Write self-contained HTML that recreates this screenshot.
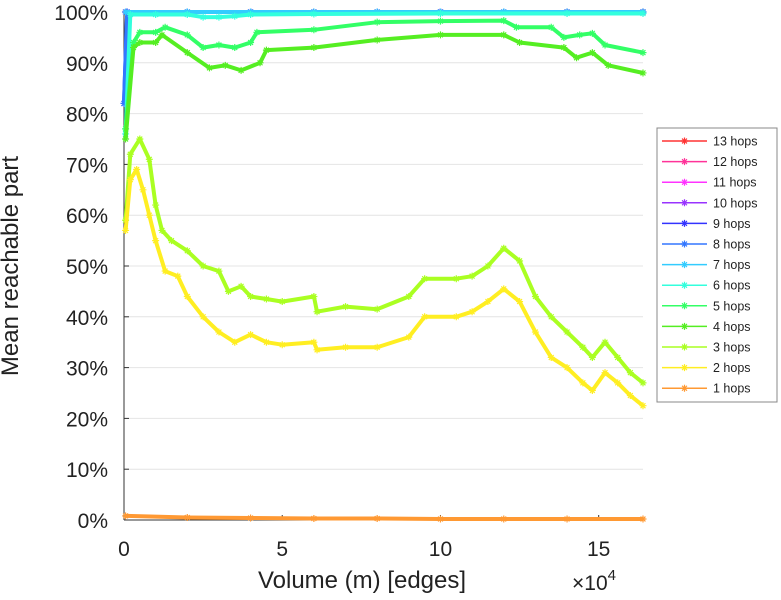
<!DOCTYPE html>
<html><head><meta charset="utf-8"><style>
html,body{margin:0;padding:0;background:#fff;}
svg{display:block;font-family:"Liberation Sans",sans-serif;}
</style></head><body>
<svg id="chart" width="781" height="600" viewBox="0 0 781 600">
<g id="grid"></g>
<g id="axes"></g>
<g id="series"></g>
<text x="18" y="266" font-size="24" fill="#222" text-anchor="middle" transform="rotate(-90 18 266)">Mean reachable part</text>
<text x="362" y="588" font-size="24" fill="#222" text-anchor="middle">Volume (m) [edges]</text>
<text x="572" y="590" font-size="21" fill="#222">×10<tspan dy="-10" font-size="15">4</tspan></text>
<g id="legend"></g>
</svg>
<script>
const yTicks=[0,10,20,30,40,50,60,70,80,90,100];
const xTicks=[0,5,10,15];
const seriesNames=["13 hops","12 hops","11 hops","10 hops","9 hops","8 hops","7 hops","6 hops","5 hops","4 hops","3 hops","2 hops","1 hops"];
const seriesColors=["#ff3333","#ff3399","#ff33ff","#9933ff","#3333ff","#3377ff","#33ccff","#33ffdd","#33ff66","#55ee22","#aaff22","#ffee22","#ff9933"];
const xTop=[0.05,2,4,6,8,10,12,14,16.4];
const yTop=[100,100,100,100,100,100,100,100,100];
const x8=[0,0.1,2,4,6,8,10,12,14,16.4];
const y8=[82,100,100,100,100,100,100,100,100,100];
const x6=[0.05,0.2,1,2,2.5,3,3.5,4,6,10,14,16.4];
const y6=[76,99.5,99.5,99.5,99,99,99.2,99.5,99.6,99.7,99.7,99.7];
const x5=[0.05,0.3,0.5,1,1.3,2,2.5,3,3.5,4,4.2,6,8,10,12,12.4,13.5,13.9,14.4,14.8,15.2,16.4];
const y5=[77,94,96,96,97,95.5,93,93.5,93,94,96,96.5,98,98.2,98.3,97,97,95,95.5,95.8,93.5,92];
const x4=[0.05,0.3,0.5,1,1.2,2,2.7,3.2,3.7,4.3,4.5,6,8,10,12,12.5,13.9,14.3,14.8,15.3,16.4];
const y4=[75,93,94,94,95.5,92,89,89.5,88.5,90,92.5,93,94.5,95.5,95.5,94,93,91,92,89.5,88];
const x3=[0.05,0.2,0.5,0.8,1,1.2,1.5,2,2.5,3,3.3,3.7,4,4.5,5,6,6.1,7,8,9,9.5,10.5,11,11.5,12,12.5,13,13.5,14,14.5,14.8,15.2,15.6,16,16.4];
const y3=[59,72,75,71,62,57,55,53,50,49,45,46,44,43.5,43,44,41,42,41.5,44,47.5,47.5,48,50,53.5,51,44,40,37,34,32,35,32,29,27];
const x2=[0.05,0.2,0.4,0.6,0.8,1,1.3,1.7,2,2.5,3,3.5,4,4.5,5,6,6.1,7,8,9,9.5,10.5,11,11.5,12,12.5,13,13.5,14,14.5,14.8,15.2,15.6,16,16.4];
const y2=[57,67,69,65,60,55,49,48,44,40,37,35,36.5,35,34.5,35,33.5,34,34,36,40,40,41,43,45.5,43,37,32,30,27,25.5,29,27,24.5,22.5];
const x1=[0.05,2,4,6,8,10,12,14,16.4];
const y1=[0.8,0.5,0.4,0.3,0.3,0.2,0.2,0.2,0.2];
const seriesX=[xTop,xTop,xTop,xTop,x8,x8,xTop,x6,x5,x4,x3,x2,x1];
const seriesY=[yTop,yTop,yTop,yTop,y8,y8,yTop,y6,y5,y4,y3,y2,y1];

const NS="http://www.w3.org/2000/svg";
const X0=124,X1=643,XMAX=16.4,Y0=520,Y1=12;
function sx(v){return X0+v*(X1-X0)/XMAX;}
function sy(v){return Y0-v*(Y0-Y1)/100;}
function mk(tag,attrs,parent){const e=document.createElementNS(NS,tag);for(const k in attrs)e.setAttribute(k,attrs[k]);parent.appendChild(e);return e;}
const grid=document.getElementById('grid'),axes=document.getElementById('axes'),ser=document.getElementById('series'),leg=document.getElementById('legend');
yTicks.forEach(t=>{
  if(t>0&&t<100){const l=mk('line',{x1:X0,x2:X1,y1:sy(t),y2:sy(t),stroke:'#e4e4e4','stroke-width':1},grid);
  
  }
  const tk=mk('line',{x1:X0,x2:X0+5,y1:sy(t),y2:sy(t),stroke:'#333'},axes);
  
  
  const tx=mk('text',{x:108,y:sy(t)+8,'font-size':21,'text-anchor':'end',fill:'#222'},axes);
  tx.textContent=t+'%';
  
  
});
xTicks.forEach(t=>{
  const tk=mk('line',{x1:sx(t),x2:sx(t),y1:Y0,y2:Y0-5,stroke:'#333'},axes);
  
  
  const tx=mk('text',{x:sx(t),y:556,'font-size':21,'text-anchor':'middle',fill:'#222'},axes);
  tx.textContent=t;
  
  
});
const ya=mk('line',{x1:X0,x2:X0,y1:Y1,y2:Y0,stroke:'#333'},axes);


const xa=mk('line',{x1:X0,x2:X1,y1:Y0,y2:Y0,stroke:'#333'},axes);



function star(g,x,y,c,r){
  mk('path',{d:`M${x-r},${y}H${x+r}M${x},${y-r}V${y+r}M${x-r*0.7},${y-r*0.7}L${x+r*0.7},${y+r*0.7}M${x-r*0.7},${y+r*0.7}L${x+r*0.7},${y-r*0.7}`,stroke:c,'stroke-width':1.2,fill:'none'},g);
}
for(let i=0;i<seriesNames.length;i++){
  const g=mk('g',{},ser);
  
  
  const xs=seriesX[i],ys=seriesY[i];
  const pts=xs.map((v,j)=>sx(v).toFixed(1)+','+sy(ys[j]).toFixed(1)).join(' ');
  const pl=mk('polyline',{points:pts,fill:'none',stroke:seriesColors[i],'stroke-width':4,'stroke-linejoin':'round'},g);
  
  
  xs.forEach((v,j)=>star(g,sx(v),sy(ys[j]),seriesColors[i],3.5));
}
const box=mk('rect',{x:657,y:128,width:120,height:274,fill:'#fff',stroke:'#888','stroke-width':1},leg);


seriesNames.forEach((n,i)=>{
  const y=141+i*20.6;
  const g=mk('g',{},leg);
  
  
  mk('line',{x1:662,x2:707,y1:y,y2:y,stroke:seriesColors[i],'stroke-width':1.5},g);
  star(g,684.5,y,seriesColors[i],3.5);
  const t=mk('text',{x:713,y:y+4.5,'font-size':12.5,fill:'#222'},g);
  t.textContent=n;
});
</script>
</body></html>
